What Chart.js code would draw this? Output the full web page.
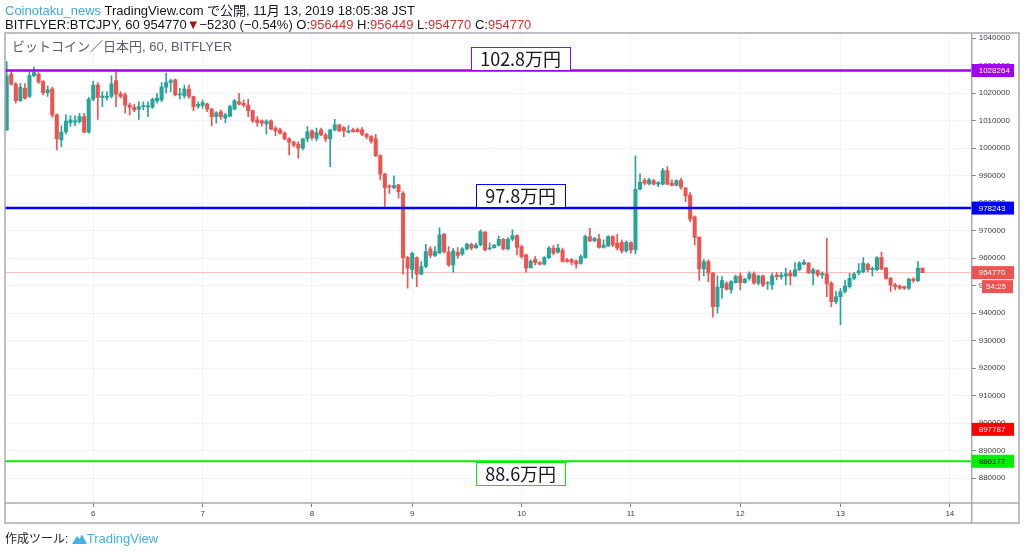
<!DOCTYPE html>
<html>
<head>
<meta charset="utf-8">
<title>BTCJPY 60</title>
<script src="https://cdn.jsdelivr.net/npm/chart.js@4.4.0/dist/chart.umd.min.js"></script>
<style>
  body { margin: 0; background: #fff; }
  #wrap { position: relative; width: 1024px; height: 552px; overflow: hidden; }
  #chartBox { position: absolute; left: 0; top: 0; width: 1024px; height: 552px; }
  .txt { position: absolute; white-space: nowrap; font-family: "Liberation Sans", "Noto Sans CJK JP", sans-serif; color: #131722; }
  .hdr { left: 5px; font-size: 13px; line-height: 15px; }
  .red { color: #d0342c; }
</style>
</head>
<body>
<div id="wrap">
  <div id="chartBox"><canvas id="btcChart"></canvas></div>
  <div class="txt hdr" style="top:3px"><span style="color:#3fa6e4">Coinotaku_news</span> TradingView.com で公開, 11月 13, 2019 18:05:38 JST</div>
  <div class="txt hdr" style="top:16.5px">BITFLYER:BTCJPY, 60 954770<span style="color:#a31515">▼</span>−5230 (−0.54%) O:<span class="red">956449</span> H:<span class="red">956449</span> L:<span class="red">954770</span> C:<span class="red">954770</span></div>
  <div class="txt" style="left:12px; top:39px; font-size:13px; line-height:15px; color:#5d606b">ビットコイン／日本円, 60, BITFLYER</div>
  <div class="txt" style="left:5px; top:531px; font-size:12px; line-height:15px; color:#222">作成ツール:
    <svg width="15" height="11" viewBox="0 0 15 11" style="vertical-align:-1px"><path d="M0 11 L5 3 L7.5 6 L10 1.5 L15 11 Z" fill="#43b0e8"/></svg><span style="color:#43b0e8; font-size:13px">TradingView</span></div>
</div>

<script>
// hourly candles, Nov 5 to Nov 13 2019
const opens = [
  1006700, 1027000, 1023300, 1017300, 1021800, 1018800, 1026400, 1027000, 1024200, 1020200,
  1021600, 1012100, 1003000, 1005900, 1009300, 1009500, 1009700, 1011500, 1005800, 1017800,
  1023000, 1018400, 1018500, 1018800, 1024600, 1019800, 1019400, 1015700, 1014900, 1014200,
  1015100, 1015000, 1014900, 1017300, 1017600, 1022200, 1023900, 1024900, 1019400, 1019000,
  1021500, 1018800, 1015300, 1015600, 1016100, 1014200, 1011500, 1013200, 1010900, 1011700,
  1014200, 1016900, 1016300, 1015700, 1013700, 1010300, 1010000, 1008800, 1010000, 1007300,
  1006700, 1005500, 1003400, 1002200, 1001500, 1000000, 1003400, 1006300, 1003600, 1006700,
  1004800, 1003400, 1006700, 1008500, 1007500, 1005800, 1006700, 1006800, 1006700, 1005100,
  1004200, 1003400, 997300, 990600, 986300, 985700, 986700, 983600, 960200, 955800,
  960200, 954200, 957000, 963300, 961000, 961800, 968700, 962200, 957600, 962200,
  961500, 963400, 965100, 963800, 964800, 969500, 963400, 963800, 964700, 966900,
  963400, 966900, 968200, 964200, 961200, 956600, 959600, 958400, 957800, 960200,
  963700, 962200, 963000, 959400, 959400, 959000, 958100, 960200, 967900, 966300,
  967000, 963900, 964500, 967900, 965500, 965800, 962700, 965700, 963000, 985100,
  988200, 987000, 988200, 986900, 986900, 991900, 987300, 986500, 988200, 985500,
  983000, 975100, 967600, 956100, 958800, 954600, 942400, 949300, 950900, 948700,
  951100, 953600, 951100, 952700, 954300, 950900, 953600, 950800, 950300, 953900,
  953300, 953600, 954600, 953600, 955800, 957800, 958200, 954500, 955500, 953900,
  954300, 950900, 944200, 946000, 947900, 949700, 952700, 954700, 955100, 957800,
  955800, 955800, 960200, 956400, 952700, 950300, 949900, 949700, 949100, 952400,
  951800, 956449
];
const highs = [
  1031500, 1027900, 1023900, 1023600, 1023500, 1027900, 1029500, 1027500, 1024600, 1022700,
  1022100, 1012500, 1008100, 1012100, 1011900, 1011800, 1012700, 1012700, 1018500, 1024300,
  1023900, 1020600, 1020500, 1026300, 1027900, 1020600, 1020100, 1016400, 1016000, 1016900,
  1016900, 1016900, 1018200, 1020000, 1023900, 1027300, 1025100, 1025100, 1021800, 1023000,
  1023000, 1019000, 1016900, 1017600, 1016400, 1014500, 1013300, 1013900, 1012700, 1015700,
  1017800, 1020000, 1017600, 1017800, 1013900, 1011500, 1010300, 1010300, 1010300, 1007900,
  1007300, 1006000, 1003900, 1002600, 1002400, 1003600, 1007900, 1006700, 1007300, 1007300,
  1005400, 1006900, 1010500, 1008700, 1007900, 1008200, 1007300, 1007300, 1007500, 1005500,
  1004600, 1005100, 997600, 990900, 986700, 990000, 986900, 984200, 960800, 962200,
  960500, 958800, 965100, 964200, 964200, 971100, 969100, 964200, 963600, 963900,
  963900, 965500, 965500, 965500, 970300, 969700, 965500, 965100, 968100, 967200,
  967500, 970300, 968500, 964800, 961500, 959400, 960600, 958800, 960600, 964200,
  964600, 965100, 963700, 960000, 960000, 959400, 961200, 968500, 970900, 967500,
  968700, 966700, 968200, 968200, 968700, 966700, 966300, 966000, 997200, 990700,
  989100, 989100, 988700, 987900, 992700, 993300, 988500, 988500, 989100, 985800,
  983900, 975400, 967900, 959600, 959400, 954800, 953600, 953300, 951500, 951900,
  953900, 954600, 952700, 955100, 955100, 953900, 953900, 951500, 954600, 954800,
  954800, 956400, 955700, 958400, 958800, 959400, 958400, 956400, 955800, 955100,
  967300, 951500, 947900, 949100, 952100, 954500, 954800, 958100, 960200, 958200,
  956900, 960600, 962200, 956700, 953100, 950900, 950300, 949900, 952700, 953000,
  958800, 956449
];
const lows = [
  1006500, 1022900, 1016400, 1017000, 1017800, 1018500, 1025900, 1023600, 1019400, 1018800,
  1011300, 999400, 1000500, 1005200, 1007900, 1008200, 1009100, 1005700, 1005500, 1017300,
  1010500, 1015100, 1017500, 1018300, 1015100, 1018300, 1012800, 1012100, 1013300, 1010500,
  1013900, 1011500, 1014500, 1016400, 1016900, 1020000, 1020600, 1019000, 1017800, 1018200,
  1018200, 1013700, 1014500, 1014500, 1013300, 1008100, 1009100, 1010500, 1009300, 1011500,
  1013900, 1015700, 1014900, 1011500, 1009300, 1007900, 1008100, 1005100, 1006700, 1004600,
  1005100, 1003000, 997600, 1000600, 996400, 999400, 1002400, 1003000, 1002700, 1004600,
  1002400, 993300, 1006300, 1006000, 1004200, 1005500, 1005800, 1005800, 1004600, 1003400,
  1001800, 996900, 988500, 978800, 983600, 985200, 981800, 954200, 949100, 952700,
  949700, 953900, 956600, 960200, 960600, 961800, 961800, 957000, 954900, 960000,
  961000, 963000, 963000, 963600, 964500, 962700, 963000, 963700, 964500, 963000,
  963000, 966300, 961200, 960000, 954900, 956400, 957600, 957600, 957600, 959800,
  961200, 961800, 958600, 958600, 957600, 956400, 957800, 960000, 966000, 966000,
  963700, 963700, 964200, 964200, 963000, 961800, 962200, 961800, 961600, 984800,
  986700, 986700, 986700, 986000, 986700, 986700, 986300, 986300, 985100, 980600,
  973300, 964800, 951900, 953600, 951500, 938600, 940000, 945500, 948500, 947300,
  950900, 948500, 950900, 951900, 950600, 950300, 949700, 948700, 948700, 952100,
  952400, 950300, 950300, 953300, 955500, 957600, 954500, 950300, 953300, 952700,
  946000, 942400, 943400, 935800, 947300, 949100, 952100, 953900, 954700, 955100,
  953600, 955500, 955800, 952400, 947900, 948500, 948700, 948700, 948700, 951200,
  951500, 954770
];
const closes = [
  1026300, 1023300, 1017300, 1022200, 1018200, 1026400, 1027500, 1024100, 1020200, 1021200,
  1012100, 1003400, 1005900, 1009900, 1010300, 1010000, 1011500, 1005800, 1017800, 1023000,
  1018500, 1019000, 1019000, 1023400, 1019700, 1018800, 1015700, 1014900, 1013900, 1015100,
  1015500, 1015400, 1017800, 1018200, 1022200, 1023900, 1024600, 1019400, 1019700, 1021500,
  1018800, 1015100, 1016000, 1016600, 1014200, 1011500, 1012900, 1011500, 1012100, 1015100,
  1017200, 1016000, 1015700, 1013700, 1010000, 1009300, 1009100, 1009900, 1007000, 1006300,
  1005500, 1003400, 1002200, 1001200, 1000000, 1003400, 1006000, 1003900, 1005800, 1004800,
  1003400, 1006700, 1008500, 1006300, 1006300, 1006300, 1006000, 1006000, 1005100, 1004200,
  1002600, 997300, 990600, 985700, 985900, 986400, 984200, 960200, 956400, 961800,
  954200, 957000, 962400, 961000, 962400, 968500, 962400, 957600, 962700, 961000,
  963400, 965100, 963700, 964800, 969700, 963000, 963800, 964700, 966900, 963400,
  966900, 968200, 963900, 960600, 956400, 959000, 958400, 957800, 960200, 963700,
  961800, 963700, 958800, 958800, 958600, 957800, 960600, 967900, 966300, 967300,
  963900, 964800, 967900, 964800, 963700, 962700, 965800, 963000, 985100, 987600,
  987300, 988500, 986900, 987500, 991900, 986900, 986500, 988200, 985800, 982700,
  974200, 967600, 956100, 958800, 954600, 942400, 949500, 951900, 948700, 951500,
  953300, 951100, 952400, 954300, 950900, 953600, 950300, 951000, 953600, 953300,
  953900, 954300, 953600, 955800, 958200, 958500, 954700, 955800, 953900, 954400,
  950700, 944200, 946000, 947900, 949900, 952700, 954200, 955400, 958200, 955800,
  956300, 960200, 956000, 952700, 950300, 949700, 949100, 949100, 952400, 951800,
  956400, 954770
];

// x axis: day labels placed at bar positions
const dayTickPos = [19, 43, 67, 89, 113, 137, 161, 183, 207];
const dayTickLabels = ["6", "7", "8", "9", "10", "11", "12", "13", "14"];

// y axis ticks
const priceTicks = [
  880000, 890000, 900000, 910000, 920000, 930000, 940000, 950000, 960000,
  970000, 980000, 990000, 1000000, 1010000, 1020000, 1030000, 1040000
];

// drawn horizontal levels and their captions
const levelValues = [1028264, 978243, 886177];
const levelTexts = ["102.8万円", "97.8万円", "88.6万円"];
const markerValue = 897787;
const lastPrice = 954770;
const countdownText = "54:25";

// ---- styles ----
const UP = "#26a69a";
const DOWN = "#ef5350";
const levelColors = ["#a000f5", "#0000ff", "#00f000"];
const levelTagText = ["#ffffff", "#ffffff", "#000000"];
const levelLineWidths = [2.5, 2.5, 2];
const levelBoxAbove = [true, true, false];
const X_MIN = -0.37;
const X_MAX = 211.8;
const TICK_FONT = { family: "Liberation Sans", size: 8 };

const barIndex = opens.map((_, i) => i);
const candleColors = barIndex.map((i) => (closes[i] >= opens[i] ? UP : DOWN));

/**
 * Draws frame, right-axis tags and the caption boxes
 */
const overlayPlugin = {
  id: "overlay",
  afterDraw(chart) {
    const { ctx, chartArea, scales } = chart;
    const yScale = scales.y;
    const xScale = scales.x;

    ctx.save();
    // frame
    ctx.strokeStyle = "#a7aab3";
    ctx.lineWidth = 1.5;
    ctx.strokeRect(5, 33, 1014, 490);
    ctx.beginPath();
    ctx.moveTo(chartArea.right, 33);
    ctx.lineTo(chartArea.right, 523);
    ctx.moveTo(5, chartArea.bottom);
    ctx.lineTo(1019, chartArea.bottom);
    ctx.stroke();

    // tags on the price axis
    const tag = (value, text, fill, color, x0, x1) => {
      const y = yScale.getPixelForValue(value);
      ctx.fillStyle = fill;
      ctx.fillRect(x0, y - 6.5, x1 - x0, 13);
      ctx.fillStyle = color;
      ctx.font = '8px "Liberation Sans"';
      ctx.textAlign = "left";
      ctx.textBaseline = "middle";
      ctx.fillText(text, x0 + 7, y + 0.5);
    };
    const tagLeft = chartArea.right;
    levelValues.forEach((v, i) => {
      tag(v, String(v), levelColors[i], levelTagText[i], tagLeft, 1014);
    });
    tag(markerValue, String(markerValue), "#ff0000", "#ffffff", tagLeft, 1014);
    tag(lastPrice, String(lastPrice), DOWN, "#ffffff", tagLeft, 1014);
    const cdY = yScale.getPixelForValue(lastPrice) + 14;
    ctx.fillStyle = DOWN;
    ctx.fillRect(982, cdY - 6.5, 31, 13);
    ctx.fillStyle = "#ffffff";
    ctx.fillText(countdownText, 986, cdY + 0.5);

    // caption boxes by the level lines
    ctx.font = '18px "Noto Sans CJK JP"';
    ctx.textAlign = "center";
    const cx = xScale.getPixelForValue(112.8);
    levelValues.forEach((v, i) => {
      const y = yScale.getPixelForValue(v);
      const w = ctx.measureText(levelTexts[i]).width + 18;
      const h = 23;
      const top = levelBoxAbove[i] ? Math.round(y) - h - 1 : Math.round(y) + 1;
      ctx.fillStyle = "#ffffff";
      ctx.fillRect(cx - w / 2, top, w, h);
      ctx.strokeStyle = levelColors[i];
      ctx.lineWidth = 1;
      ctx.strokeRect(Math.round(cx - w / 2) + 0.5, top + 0.5, Math.round(w), h);
      ctx.fillStyle = "#131722";
      ctx.textBaseline = "middle";
      ctx.fillText(levelTexts[i], cx, top + h / 2 + 1);
    });
    ctx.restore();
  },
};

const levelDatasets = levelValues.map((v, i) => ({
  type: "line",
  data: [{ x: X_MIN, y: v }, { x: X_MAX, y: v }],
  borderColor: levelColors[i],
  borderWidth: levelLineWidths[i],
  pointRadius: 0,
  order: 0,
}));

const ctx = document.getElementById("btcChart").getContext("2d");
new Chart(ctx, {
  type: "bar",
  data: {
    datasets: [
      ...levelDatasets,
      {
        type: "line",
        data: [{ x: X_MIN, y: lastPrice }, { x: X_MAX, y: lastPrice }],
        borderColor: "rgba(239, 83, 80, 0.4)",
        borderWidth: 1,
        pointRadius: 0,
        order: 6,
      },
      {
        // wicks
        data: barIndex.map((i) => ({ x: i, y: [lows[i], highs[i]] })),
        backgroundColor: candleColors,
        barThickness: 1,
        grouped: false,
        order: 4,
      },
      {
        // bodies
        data: barIndex.map((i) => ({ x: i, y: [opens[i], closes[i]] })),
        backgroundColor: candleColors,
        barThickness: 3.4,
        minBarLength: 1,
        grouped: false,
        order: 3,
      },
    ],
  },
  options: {
    responsive: true,
    maintainAspectRatio: false,
    animation: false,
    events: [],
    layout: { padding: { left: 5, top: 33, right: 5, bottom: 29 } },
    plugins: {
      legend: { display: false },
      tooltip: { enabled: false },
    },
    scales: {
      x: {
        type: "linear",
        min: X_MIN,
        max: X_MAX,
        offset: false,
        afterBuildTicks: (scale) => {
          scale.ticks = dayTickPos.map((v) => ({ value: v }));
        },
        afterFit: (scale) => {
          scale.height = 20;
        },
        grid: {
          color: "#f0f3fa",
          tickColor: "#7a7d86",
          tickLength: 4,
          offset: false,
        },
        border: { display: false },
        ticks: {
          autoSkip: false,
          maxRotation: 0,
          padding: 2,
          color: "#3a3d47",
          font: TICK_FONT,
          callback: (value) => dayTickLabels[dayTickPos.indexOf(value)],
        },
      },
      y: {
        type: "linear",
        position: "right",
        min: 871000,
        max: 1041900,
        afterBuildTicks: (scale) => {
          scale.ticks = priceTicks.map((v) => ({ value: v }));
        },
        afterFit: (scale) => {
          scale.width = 47.3;
        },
        grid: {
          color: "#f0f3fa",
          tickColor: "#7a7d86",
          tickLength: 4,
        },
        border: { display: false },
        ticks: {
          padding: 3,
          color: "#3a3d47",
          font: TICK_FONT,
          callback: (value) => String(value),
        },
      },
    },
  },
  plugins: [overlayPlugin],
});
</script>
</body>
</html>
